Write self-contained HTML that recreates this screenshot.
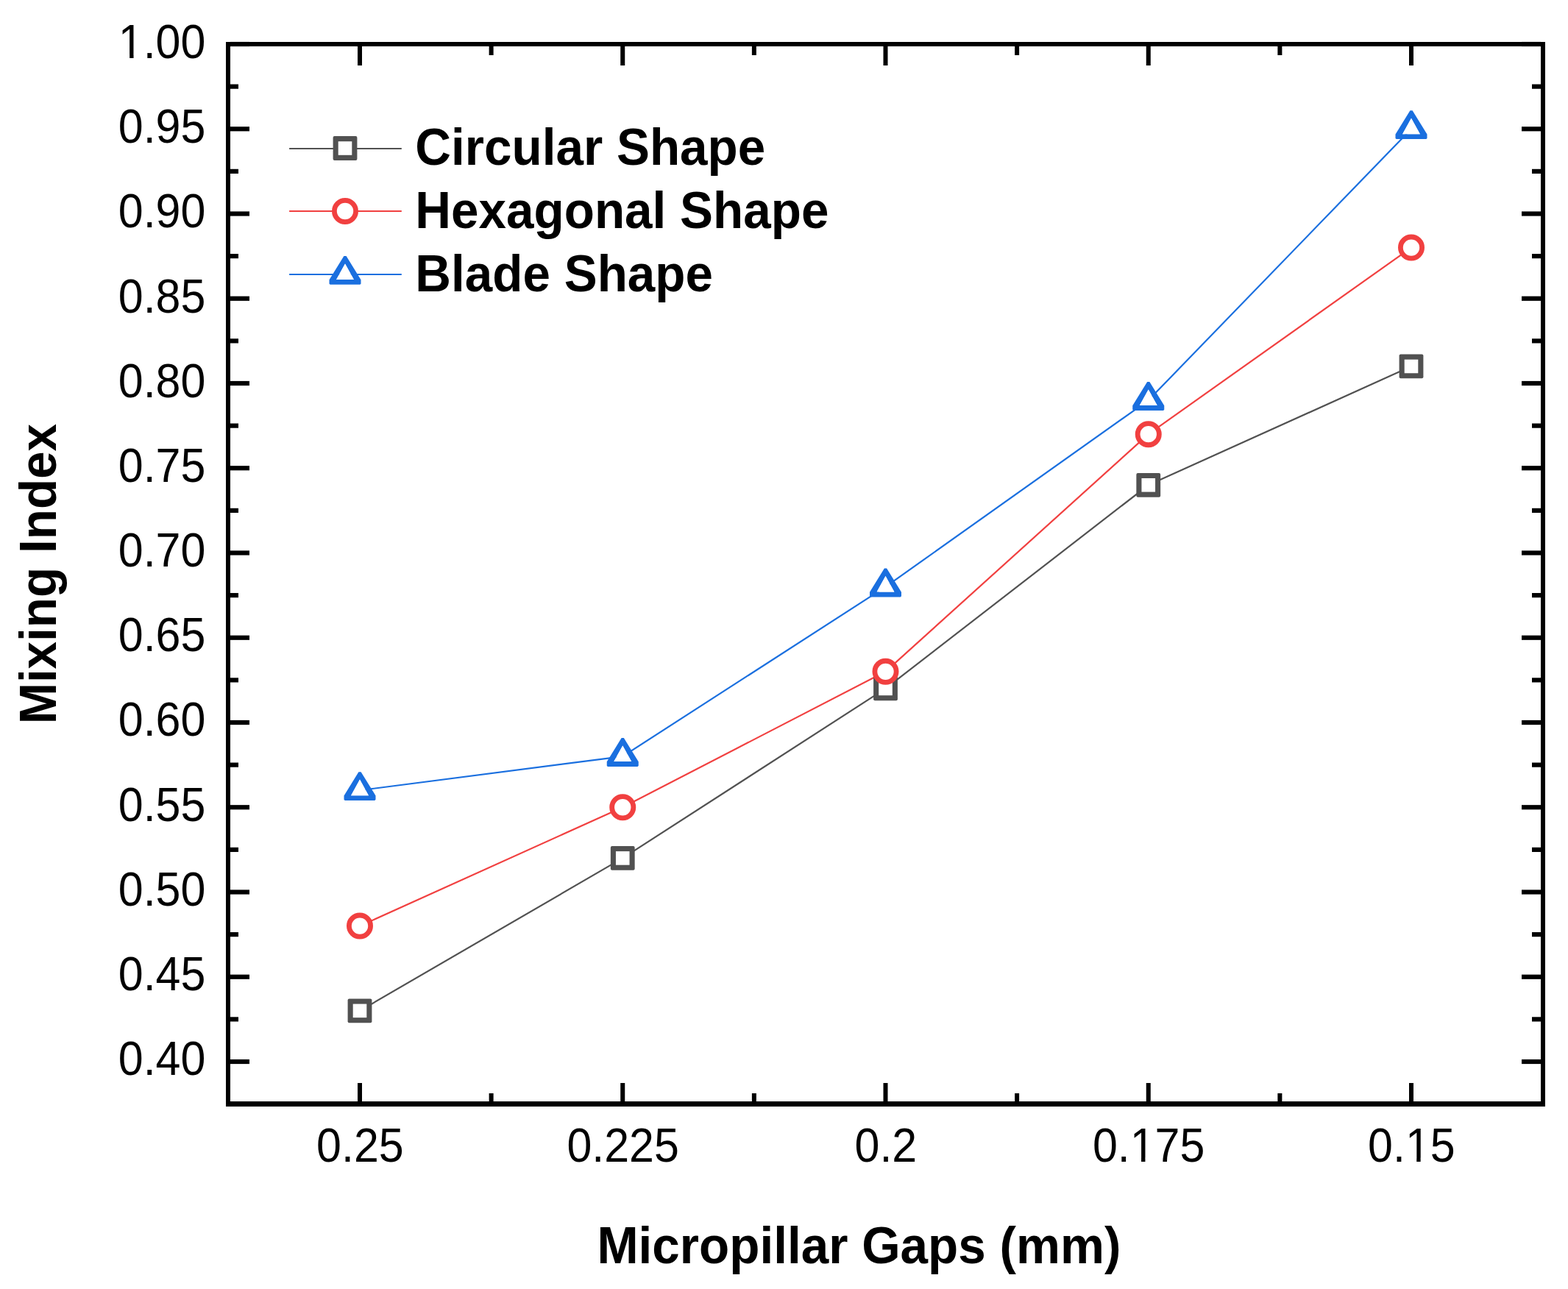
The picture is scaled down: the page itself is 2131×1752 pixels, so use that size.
<!DOCTYPE html>
<html><head><meta charset="utf-8"><title>Mixing Index vs Micropillar Gaps</title>
<style>html,body{margin:0;padding:0;background:#fff;overflow:hidden}svg{display:block}</style>
</head><body>
<svg width="2131" height="1752" viewBox="0 0 2131 1752">
<rect width="2131" height="1752" fill="#fff"/>
<polyline points="489.00,1373.85 846.25,1166.40 1203.50,935.90 1560.75,659.30 1918.00,497.95" fill="none" stroke="#515151" stroke-width="2.2" stroke-linejoin="round"/>
<polyline points="489.00,1258.60 846.25,1097.25 1203.50,912.85 1560.75,590.15 1918.00,336.60" fill="none" stroke="#F14040" stroke-width="2.2" stroke-linejoin="round"/>
<polyline points="489.00,1074.20 846.25,1028.10 1203.50,797.60 1560.75,544.05 1918.00,175.25" fill="none" stroke="#1A6FDF" stroke-width="2.2" stroke-linejoin="round"/>
<rect x="472.60" y="1357.45" width="32.8" height="32.8" rx="2" fill="#515151"/><rect x="479.70" y="1364.55" width="18.6" height="18.6" fill="#fff"/>
<rect x="829.85" y="1150.00" width="32.8" height="32.8" rx="2" fill="#515151"/><rect x="836.95" y="1157.10" width="18.6" height="18.6" fill="#fff"/>
<rect x="1187.10" y="919.50" width="32.8" height="32.8" rx="2" fill="#515151"/><rect x="1194.20" y="926.60" width="18.6" height="18.6" fill="#fff"/>
<rect x="1544.35" y="642.90" width="32.8" height="32.8" rx="2" fill="#515151"/><rect x="1551.45" y="650.00" width="18.6" height="18.6" fill="#fff"/>
<rect x="1901.60" y="481.55" width="32.8" height="32.8" rx="2" fill="#515151"/><rect x="1908.70" y="488.65" width="18.6" height="18.6" fill="#fff"/>
<circle cx="489.00" cy="1258.60" r="14.6" fill="#fff" stroke="#F14040" stroke-width="6.8"/>
<circle cx="846.25" cy="1097.25" r="14.6" fill="#fff" stroke="#F14040" stroke-width="6.8"/>
<circle cx="1203.50" cy="912.85" r="14.6" fill="#fff" stroke="#F14040" stroke-width="6.8"/>
<circle cx="1560.75" cy="590.15" r="14.6" fill="#fff" stroke="#F14040" stroke-width="6.8"/>
<circle cx="1918.00" cy="336.60" r="14.6" fill="#fff" stroke="#F14040" stroke-width="6.8"/>
<path d="M468.70 1088.05L467.50 1086.85L467.50 1081.40L487.40 1049.20L490.60 1049.20L510.50 1081.40L510.50 1086.85L509.30 1088.05ZM489.00 1059.60L500.90 1081.20L477.10 1081.20Z" fill="#1A6FDF" fill-rule="evenodd"/><path d="M489.00 1059.60L500.90 1081.20L477.10 1081.20Z" fill="#fff"/>
<path d="M825.95 1041.95L824.75 1040.75L824.75 1035.30L844.65 1003.10L847.85 1003.10L867.75 1035.30L867.75 1040.75L866.55 1041.95ZM846.25 1013.50L858.15 1035.10L834.35 1035.10Z" fill="#1A6FDF" fill-rule="evenodd"/><path d="M846.25 1013.50L858.15 1035.10L834.35 1035.10Z" fill="#fff"/>
<path d="M1183.20 811.45L1182.00 810.25L1182.00 804.80L1201.90 772.60L1205.10 772.60L1225.00 804.80L1225.00 810.25L1223.80 811.45ZM1203.50 783.00L1215.40 804.60L1191.60 804.60Z" fill="#1A6FDF" fill-rule="evenodd"/><path d="M1203.50 783.00L1215.40 804.60L1191.60 804.60Z" fill="#fff"/>
<path d="M1540.45 557.90L1539.25 556.70L1539.25 551.25L1559.15 519.05L1562.35 519.05L1582.25 551.25L1582.25 556.70L1581.05 557.90ZM1560.75 529.45L1572.65 551.05L1548.85 551.05Z" fill="#1A6FDF" fill-rule="evenodd"/><path d="M1560.75 529.45L1572.65 551.05L1548.85 551.05Z" fill="#fff"/>
<path d="M1897.70 189.10L1896.50 187.90L1896.50 182.45L1916.40 150.25L1919.60 150.25L1939.50 182.45L1939.50 187.90L1938.30 189.10ZM1918.00 160.65L1929.90 182.25L1906.10 182.25Z" fill="#1A6FDF" fill-rule="evenodd"/><path d="M1918.00 160.65L1929.90 182.25L1906.10 182.25Z" fill="#fff"/>
<g fill="#000"><rect x="307" y="57" width="1793" height="6"/><rect x="307" y="1497" width="1793" height="7"/><rect x="307" y="57" width="6" height="1447"/><rect x="2094" y="57" width="6" height="1447"/><rect x="313" y="1439.90" width="26" height="6.2"/><rect x="2068" y="1439.90" width="26" height="6.2"/><rect x="313" y="1382.28" width="11" height="6.2"/><rect x="2082" y="1382.28" width="12" height="6.2"/><rect x="313" y="1324.65" width="26" height="6.2"/><rect x="2068" y="1324.65" width="26" height="6.2"/><rect x="313" y="1267.02" width="11" height="6.2"/><rect x="2082" y="1267.02" width="12" height="6.2"/><rect x="313" y="1209.40" width="26" height="6.2"/><rect x="2068" y="1209.40" width="26" height="6.2"/><rect x="313" y="1151.78" width="11" height="6.2"/><rect x="2082" y="1151.78" width="12" height="6.2"/><rect x="313" y="1094.15" width="26" height="6.2"/><rect x="2068" y="1094.15" width="26" height="6.2"/><rect x="313" y="1036.53" width="11" height="6.2"/><rect x="2082" y="1036.53" width="12" height="6.2"/><rect x="313" y="978.90" width="26" height="6.2"/><rect x="2068" y="978.90" width="26" height="6.2"/><rect x="313" y="921.27" width="11" height="6.2"/><rect x="2082" y="921.27" width="12" height="6.2"/><rect x="313" y="863.65" width="26" height="6.2"/><rect x="2068" y="863.65" width="26" height="6.2"/><rect x="313" y="806.02" width="11" height="6.2"/><rect x="2082" y="806.02" width="12" height="6.2"/><rect x="313" y="748.40" width="26" height="6.2"/><rect x="2068" y="748.40" width="26" height="6.2"/><rect x="313" y="690.77" width="11" height="6.2"/><rect x="2082" y="690.77" width="12" height="6.2"/><rect x="313" y="633.15" width="26" height="6.2"/><rect x="2068" y="633.15" width="26" height="6.2"/><rect x="313" y="575.52" width="11" height="6.2"/><rect x="2082" y="575.52" width="12" height="6.2"/><rect x="313" y="517.90" width="26" height="6.2"/><rect x="2068" y="517.90" width="26" height="6.2"/><rect x="313" y="460.27" width="11" height="6.2"/><rect x="2082" y="460.27" width="12" height="6.2"/><rect x="313" y="402.65" width="26" height="6.2"/><rect x="2068" y="402.65" width="26" height="6.2"/><rect x="313" y="345.02" width="11" height="6.2"/><rect x="2082" y="345.02" width="12" height="6.2"/><rect x="313" y="287.40" width="26" height="6.2"/><rect x="2068" y="287.40" width="26" height="6.2"/><rect x="313" y="229.77" width="11" height="6.2"/><rect x="2082" y="229.77" width="12" height="6.2"/><rect x="313" y="172.15" width="26" height="6.2"/><rect x="2068" y="172.15" width="26" height="6.2"/><rect x="313" y="114.52" width="11" height="6.2"/><rect x="2082" y="114.52" width="12" height="6.2"/><rect x="313" y="56.90" width="26" height="6.2"/><rect x="2068" y="56.90" width="26" height="6.2"/><rect x="486.00" y="1472" width="6" height="25"/><rect x="486.00" y="63" width="6" height="26"/><rect x="843.25" y="1472" width="6" height="25"/><rect x="843.25" y="63" width="6" height="26"/><rect x="1200.50" y="1472" width="6" height="25"/><rect x="1200.50" y="63" width="6" height="26"/><rect x="1557.75" y="1472" width="6" height="25"/><rect x="1557.75" y="63" width="6" height="26"/><rect x="1915.00" y="1472" width="6" height="25"/><rect x="1915.00" y="63" width="6" height="26"/><rect x="664.62" y="1486" width="6" height="11"/><rect x="664.62" y="63" width="6" height="12"/><rect x="1021.88" y="1486" width="6" height="11"/><rect x="1021.88" y="63" width="6" height="12"/><rect x="1379.12" y="1486" width="6" height="11"/><rect x="1379.12" y="63" width="6" height="12"/><rect x="1736.38" y="1486" width="6" height="11"/><rect x="1736.38" y="63" width="6" height="12"/></g>
<g font-family="Liberation Sans, Arial, sans-serif" font-size="64" fill="#000"><g transform="translate(160.82 1461.00) scale(0.952 1)"><text x="0" y="0">0.40</text></g><g transform="translate(160.82 1345.83) scale(0.952 1)"><text x="0" y="0">0.45</text></g><g transform="translate(160.82 1230.67) scale(0.952 1)"><text x="0" y="0">0.50</text></g><g transform="translate(160.82 1115.50) scale(0.952 1)"><text x="0" y="0">0.55</text></g><g transform="translate(160.82 1000.33) scale(0.952 1)"><text x="0" y="0">0.60</text></g><g transform="translate(160.82 885.17) scale(0.952 1)"><text x="0" y="0">0.65</text></g><g transform="translate(160.82 770.00) scale(0.952 1)"><text x="0" y="0">0.70</text></g><g transform="translate(160.82 654.83) scale(0.952 1)"><text x="0" y="0">0.75</text></g><g transform="translate(160.82 539.67) scale(0.952 1)"><text x="0" y="0">0.80</text></g><g transform="translate(160.82 424.50) scale(0.952 1)"><text x="0" y="0">0.85</text></g><g transform="translate(160.82 309.33) scale(0.952 1)"><text x="0" y="0">0.90</text></g><g transform="translate(160.82 194.17) scale(0.952 1)"><text x="0" y="0">0.95</text></g><g transform="translate(160.82 79.00) scale(0.952 1)"><text x="0" y="0">1.00</text><rect x="4.06" y="-5.18" width="12.03" height="6.18" fill="#fff"/><rect x="21.75" y="-5.18" width="11.69" height="6.18" fill="#fff"/></g><g transform="translate(430.11 1579.00) scale(0.952 1)"><text x="0" y="0">0.25</text></g><g transform="translate(770.42 1579.00) scale(0.952 1)"><text x="0" y="0">0.225</text></g><g transform="translate(1161.55 1579.00) scale(0.952 1)"><text x="0" y="0">0.2</text></g><g transform="translate(1484.92 1579.00) scale(0.952 1)"><text x="0" y="0">0.175</text><rect x="57.44" y="-5.18" width="12.03" height="6.18" fill="#fff"/><rect x="75.12" y="-5.18" width="11.69" height="6.18" fill="#fff"/></g><g transform="translate(1859.11 1579.00) scale(0.952 1)"><text x="0" y="0">0.15</text><rect x="57.44" y="-5.18" width="12.03" height="6.18" fill="#fff"/><rect x="75.12" y="-5.18" width="11.69" height="6.18" fill="#fff"/></g></g>
<g font-family="Liberation Sans, Arial, sans-serif" font-weight="bold" font-size="71" fill="#000">
<text transform="translate(811.4 1717) scale(0.95 1)">Micropillar Gaps (mm)</text>
<text transform="translate(76 984.3) rotate(-90) scale(0.95 1)">Mixing Index</text>
<text transform="translate(564.3 223.7) scale(0.95 1)">Circular Shape</text>
<text transform="translate(564.3 310.0) scale(0.95 1)">Hexagonal Shape</text>
<text transform="translate(564.3 395.8) scale(0.95 1)">Blade Shape</text>
</g>
<line x1="393.1" y1="202" x2="545.8" y2="202" stroke="#515151" stroke-width="2"/>
<rect x="452.60" y="185.10" width="32.8" height="32.8" rx="2" fill="#515151"/><rect x="459.70" y="192.20" width="18.6" height="18.6" fill="#fff"/>
<line x1="393.1" y1="287" x2="545.8" y2="287" stroke="#F14040" stroke-width="2"/>
<circle cx="469.00" cy="287.00" r="14.6" fill="#fff" stroke="#F14040" stroke-width="6.8"/>
<line x1="393.1" y1="373" x2="545.8" y2="373" stroke="#1A6FDF" stroke-width="2"/>
<path d="M448.70 386.85L447.50 385.65L447.50 380.20L467.40 348.00L470.60 348.00L490.50 380.20L490.50 385.65L489.30 386.85ZM469.00 358.40L480.90 380.00L457.10 380.00Z" fill="#1A6FDF" fill-rule="evenodd"/><path d="M469.00 358.40L480.90 380.00L457.10 380.00Z" fill="#fff"/>
</svg>
</body></html>
